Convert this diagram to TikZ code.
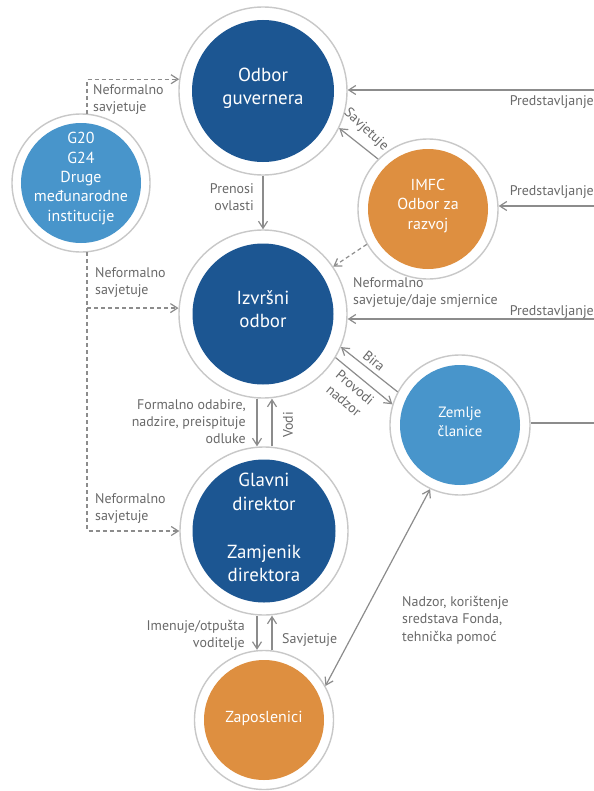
\documentclass[tikz,border=0pt]{standalone}
\usepackage{fontspec}
\setmainfont{PT Sans}
\usetikzlibrary{arrows.meta,calc}
\definecolor{dblue}{RGB}{28,86,146}
\definecolor{lblue}{RGB}{72,149,203}
\definecolor{orng}{RGB}{222,143,64}
\definecolor{ringc}{RGB}{200,200,200}
\definecolor{linec}{RGB}{140,140,140}
\definecolor{txtc}{RGB}{105,105,105}
\begin{document}
\begin{tikzpicture}[x=1bp,y=-1bp,
  ring/.style={circle,draw=ringc,line width=1.4bp,fill=white,minimum size=#1,inner sep=0pt},
  disc/.style={circle,fill=#1,inner sep=0pt},
  ctext/.style={text=white,align=center,inner sep=0pt},
  big/.style={font=\fontsize{19}{23.5}\selectfont},
  mid/.style={font=\fontsize{16}{19.5}\selectfont},
  conn/.style={draw=linec,line width=1.2bp,-{Straight Barb[length=7bp,width=9bp]}},
  dconn/.style={conn,dash pattern=on 4bp off 3bp},
  lbl/.style={text=txtc,font=\fontsize{14}{17.5}\selectfont,inner sep=0pt},
]
\useasboundingbox[fill=white] (0,0) rectangle (594,791);

% circles
\node[ring=168bp] (og) at (263,91) {};
\node[disc=dblue,minimum size=142bp] (ogi) at (og.center) {};
\node[ctext,big] (ogt) at (263,88) {Odbor\\guvernera};

\node[ring=138bp] (g20) at (81,183) {};
\node[disc=lblue,minimum size=120bp] (g20i) at (g20.center) {};
\node[ctext,mid] (g20t) at (81,178.5) {G20\\G24\\Druge\\međunarodne\\institucije};

\node[ring=140bp] (imfc) at (428,209) {};
\node[disc=orng,minimum size=120bp] (imfci) at (imfc.center) {};
\node[ctext,mid] (imfct) at (428,206) {IMFC\\Odbor za\\razvoj};

\node[ring=168bp] (io) at (263,314) {};
\node[disc=dblue,minimum size=141bp] (ioi) at (io.center) {};
\node[ctext,big] (iot) at (263,309) {Izvršni\\odbor};

\node[ring=140bp] (zc) at (460,425) {};
\node[disc=lblue,minimum size=120bp] (zci) at (zc.center) {};
\node[ctext,font=\fontsize{15}{18.5}\selectfont] (zct) at (460,422) {Zemlje\\članice};

\node[ring=168bp] (gd) at (264,531) {};
\node[disc=dblue,minimum size=143bp] (gdi) at (gd.center) {};
\node[ctext,font=\fontsize{19}{24}\selectfont] (gdt) at (264,527.5) {Glavni\\direktor\\[24bp]Zamjenik\\direktora};

\node[ring=139bp] (zp) at (264,720) {};
\node[disc=orng,minimum size=120bp] (zpi) at (zp.center) {};
\node[ctext,mid] (zpt) at (264,718) {Zaposlenici};

% right-edge coordinates
\coordinate (r1) at (594,90);
\coordinate (r2) at (594,206);
\coordinate (r3) at (594,319);
\coordinate (r4) at (594,423);

% connectors
\draw[conn] (og.south) -- (io.north);
\draw[conn] ($(io.south)+(-6,0)$) -- ($(gd.north)+(-7,0)$);
\draw[conn] ($(gd.north)+(8,0)$) -- ($(io.south)+(9,0)$);
\draw[conn] ($(gd.south)+(-7,0)$) -- ($(zp.north)+(-7,0)$);
\draw[conn] ($(zp.north)+(8,0)$) -- ($(gd.south)+(8,0)$);

\draw[dconn] (g20.85) |- (og.172);
\draw[dconn] (g20.275) |- (gd.west);
\draw[dconn] (g20.275 |- io.176) -- (io.176);
\draw[dconn] (imfc.210) -- (io.34);

\draw[conn] (imfc.135) -- (og.334);
\draw[conn] (r1) -- (r1 -| og.east);
\draw[conn] (r2) -- (r2 -| imfc.east);
\draw[conn] (r3) -- (r3 -| io.east);
\draw[draw=linec,line width=1.2bp] (zc.east |- r4) -- (r4);

\draw[conn] (zc.152) -- (io.337);
\draw[conn] (io.329) -- (zc.163);
\draw[conn,{Straight Barb[length=7bp,width=9bp]}-{Straight Barb[length=7bp,width=9bp]}] (zc.245) -- (zp.29);

% labels
\node[lbl,anchor=north west,align=left] (l1) at (93,84) {Neformalno\\savjetuje};
\node[lbl,anchor=north east,align=right] (l2) at (254,183) {Prenosi\\ovlasti};
\node[lbl,anchor=north west,align=left] (l3) at (95,267) {Neformalno\\savjetuje};
\node[lbl,anchor=north east,align=right] (l4) at (246,399) {Formalno odabire,\\nadzire, preispituje\\odluke};
\node[lbl,rotate=90] (l5) at (288,425) {Vodi};
\node[lbl,anchor=north west,align=left] (l6) at (95,493) {Neformalno\\savjetuje};
\node[lbl,anchor=north east,align=right] (l7) at (245,620) {Imenuje/otpušta\\voditelje};
\node[lbl,anchor=north west] (l8) at (282,633) {Savjetuje};
\node[lbl,rotate=-43] (l9) at (366,130) {Savjetuje};
\node[lbl,anchor=north east] (l10) at (594,95) {Predstavljanje};
\node[lbl,anchor=north east] (l11) at (594,185) {Predstavljanje};
\node[lbl,anchor=north east] (l12) at (594,305) {Predstavljanje};
\node[lbl,anchor=north west,align=left] (l13) at (353,277) {Neformalno\\savjetuje/daje smjernice};
\node[lbl,rotate=-39] (l14) at (374,361) {Bira};
\node[lbl,rotate=-40,align=center] (l15) at (349.5,394) {Provodi\\nadzor};
\node[lbl,anchor=north west,align=left] (l16) at (402,596) {Nadzor, korištenje\\sredstava Fonda,\\tehnička pomoć};
\end{tikzpicture}
\end{document}
